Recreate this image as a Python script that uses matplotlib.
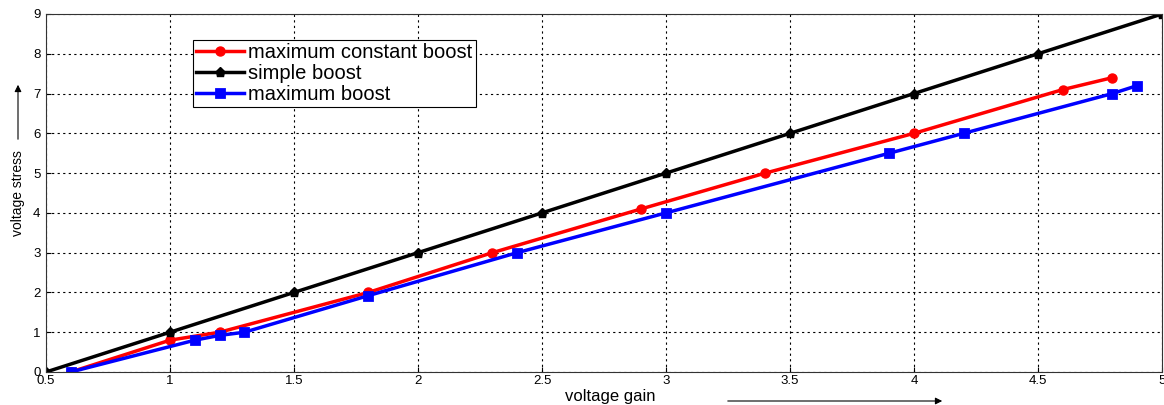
import matplotlib
matplotlib.use('Agg')
import matplotlib.pyplot as plt

plt.rcParams['font.family'] = ['Liberation Sans', 'DejaVu Sans']

# simple boost
x_simple = [0.5, 1.0, 1.5, 2.0, 2.5, 3.0, 3.5, 4.0, 4.5, 5.0]
y_simple = [0, 1, 2, 3, 4, 5, 6, 7, 8, 9]

# maximum constant boost
x_mcb = [0.6, 1.0, 1.2, 1.8, 2.3, 2.9, 3.4, 4.0, 4.6, 4.8]
y_mcb = [0.0, 0.8, 1.0, 2.0, 3.0, 4.1, 5.0, 6.0, 7.1, 7.4]

# maximum boost
x_mb = [0.6, 1.1, 1.2, 1.3, 1.8, 2.4, 3.0, 3.9, 4.2, 4.8, 4.9]
y_mb = [0.0, 0.8, 0.92, 1.0, 1.92, 3.0, 4.0, 5.5, 6.0, 7.0, 7.2]

fig = plt.figure(figsize=(11.64, 4.05), dpi=100)
ax = fig.add_axes([46/1164, 33/405, 1116/1164, 358/405])

ax.plot(x_mcb, y_mcb, '-o', color='red', lw=2.5, ms=6.5, label='maximum constant boost')
ax.plot(x_simple, y_simple, '-p', color='black', lw=2.5, ms=6.5, label='simple boost')
ax.plot(x_mb, y_mb, '-s', color='blue', lw=2.5, ms=6, mew=2, label='maximum boost')

ax.set_xlim(0.5, 5)
ax.set_ylim(0, 9)
ax.set_xticks([0.5, 1, 1.5, 2, 2.5, 3, 3.5, 4, 4.5, 5])
ax.set_xticklabels(['0.5', '1', '1.5', '2', '2.5', '3', '3.5', '4', '4.5', '5'])
ax.set_yticks(range(10))
ax.tick_params(direction='in', labelsize=9.5, pad=2)
ax.tick_params(axis='y', pad=4)
ax.grid(True, color='black', linestyle=(0, (2, 3)), linewidth=0.8)
for s in ax.spines.values():
    s.set_linewidth(0.8)
    s.set_color('#333333')

leg = ax.legend(loc='upper left', bbox_to_anchor=(147/1116, 1 - 26/358), fontsize=14.5,
                handlelength=2.4, borderpad=0.15, labelspacing=0.1, handletextpad=0.2,
                fancybox=False, framealpha=1, edgecolor='black', borderaxespad=0)
leg.get_frame().set_linewidth(0.8)

fig.text(610/1164, 1 - 396/405, 'voltage gain', ha='center', va='center', fontsize=12)
fig.text(18/1164, 1 - 193/405, 'voltage stress', ha='center', va='center', fontsize=10, rotation=90)
fig.add_artist(matplotlib.patches.FancyArrowPatch((725/1164, 1 - 401/405), (945/1164, 1 - 401/405),
                                                  transform=fig.transFigure, arrowstyle='-|>',
                                                  mutation_scale=10, lw=0.8, color='black'))
fig.add_artist(matplotlib.patches.FancyArrowPatch((18/1164, 1 - 142/405), (18/1164, 1 - 82/405),
                                                  transform=fig.transFigure, arrowstyle='-|>',
                                                  mutation_scale=10, lw=0.8, color='black'))

fig.savefig('out.png', dpi=100)
